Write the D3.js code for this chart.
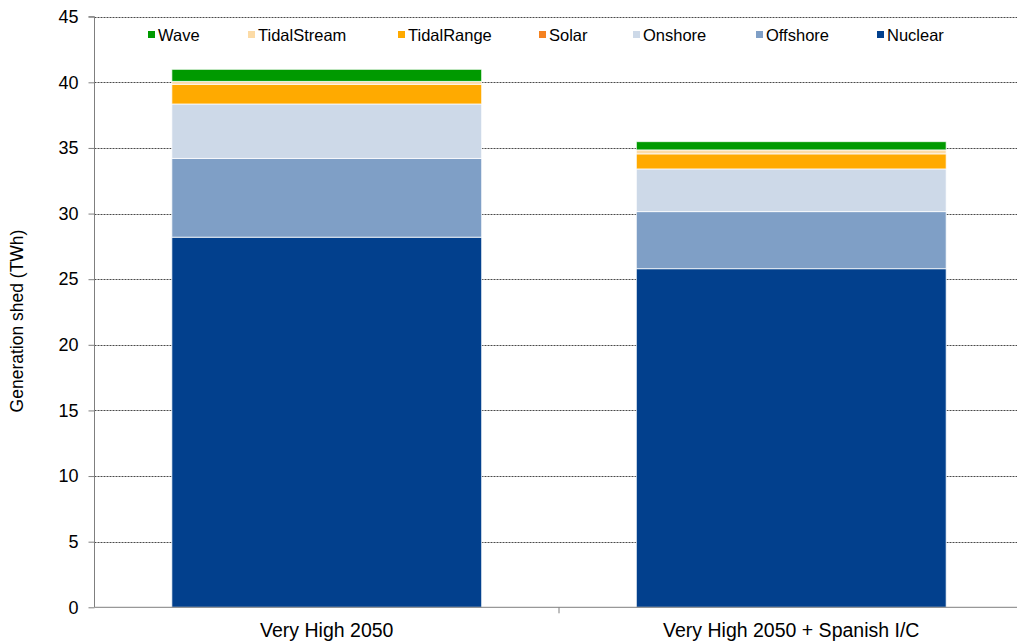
<!DOCTYPE html>
<html>
<head>
<meta charset="utf-8">
<script src="https://cdn.jsdelivr.net/npm/d3@7/dist/d3.min.js"></script>
<style>
  html, body { margin: 0; padding: 0; background: #fff; }
  svg { display: block; font-family: "Liberation Sans", Arial, sans-serif; }
</style>
</head>
<body>
<svg id="chart" width="1017" height="643"></svg>
<script>
// Scenarios on the x axis
const categories = ["Very High 2050", "Very High 2050 + Spanish I/C"];

// Generation shed per technology (TWh), one value per scenario
const nuclear     = [28.2, 25.8];
const offshore    = [6.0, 4.35];
const onshore     = [4.15, 3.25];
const solar       = [0, 0];
const tidalRange  = [1.5, 1.15];
const tidalStream = [0.22, 0.3];
const wave        = [0.92, 0.63];

// Stacking order, bottom to top
const seriesNames = ["Nuclear", "Offshore", "Onshore", "Solar", "TidalRange", "TidalStream", "Wave"];
const seriesValues = [nuclear, offshore, onshore, solar, tidalRange, tidalStream, wave];
const seriesColors = ["#02408D", "#7F9FC6", "#CDD9E8", "#F58220", "#FFAA00", "#FCDBA6", "#009A00"];

const yTicks = [0, 5, 10, 15, 20, 25, 30, 35, 40, 45];

const rows = categories.map((c, i) => {
  const r = { category: c };
  seriesNames.forEach((s, k) => { r[s] = seriesValues[k][i]; });
  return r;
});

const svg = d3.select("#chart");
const plotLeft = 94.5, plotRight = 1023.5, plotTop = 16.7, plotBottom = 607.3;

const x = d3.scaleBand().domain(categories).range([plotLeft, plotRight])
  .paddingInner(0.333).paddingOuter(0.1665);
const y = d3.scaleLinear().domain([0, 45]).range([plotBottom, plotTop]);
const color = d3.scaleOrdinal().domain(seriesNames).range(seriesColors);

// Dotted horizontal gridlines
svg.append("g")
  .selectAll("line")
  .data(yTicks.filter(t => t > 0))
  .join("line")
  .attr("x1", plotLeft).attr("x2", plotRight)
  .attr("y1", d => Math.round(y(d)) + 0.5).attr("y2", d => Math.round(y(d)) + 0.5)
  .attr("stroke", "#4a4a4a")
  .attr("stroke-width", 1)
  .attr("stroke-dasharray", "2,1");

// Stacked bars
const stacked = d3.stack().keys(seriesNames)(rows);
svg.append("g")
  .selectAll("g")
  .data(stacked)
  .join("g")
  .attr("fill", d => color(d.key))
  .selectAll("rect")
  .data(d => d.filter(p => p[1] - p[0] > 0))
  .join("rect")
  .attr("x", d => x(d.data.category))
  .attr("width", x.bandwidth())
  .attr("y", d => y(d[1]))
  .attr("height", d => y(d[0]) - y(d[1]))
  .attr("stroke", "#ffffff")
  .attr("stroke-opacity", 0.75)
  .attr("stroke-width", 1);

// Y axis
const yAxis = d3.axisLeft(y).tickValues(yTicks).tickSize(6).tickPadding(10);
const gy = svg.append("g").attr("transform", `translate(${plotLeft},0)`).call(yAxis);
gy.select(".domain").attr("stroke", "#7f7f7f").attr("d", `M-6,${plotTop}H0V${plotBottom}`);
gy.selectAll(".tick line").attr("stroke", "#7f7f7f");
gy.selectAll(".tick text").attr("font-size", 18).attr("fill", "#000")
  .attr("font-family", "Liberation Sans, Arial, sans-serif");

// X axis with tick marks on category boundaries
svg.append("line")
  .attr("x1", plotLeft).attr("x2", plotRight)
  .attr("y1", plotBottom).attr("y2", plotBottom)
  .attr("stroke", "#7f7f7f");
const boundaries = categories.map(c => x(c) - x.step() * x.paddingInner() / 2);
svg.append("g").selectAll("line")
  .data(boundaries.slice(1))
  .join("line")
  .attr("x1", d => d).attr("x2", d => d)
  .attr("y1", plotBottom).attr("y2", plotBottom + 6)
  .attr("stroke", "#7f7f7f");
svg.append("g").selectAll("text")
  .data(categories)
  .join("text")
  .attr("x", d => x(d) + x.bandwidth() / 2)
  .attr("y", 637)
  .attr("text-anchor", "middle")
  .attr("font-size", 19.5)
  .attr("fill", "#000")
  .text(d => d);

// Y axis title
svg.append("text")
  .attr("transform", "translate(23,321) rotate(-90)")
  .attr("text-anchor", "middle")
  .attr("font-size", 17.5)
  .attr("fill", "#000")
  .text("Generation shed (TWh)");

// Legend, top-most series first
const legendOrder = seriesNames.slice().reverse();
const legendX = [158, 258, 408, 549, 643, 766, 887];
const legend = svg.append("g").selectAll("g")
  .data(legendOrder)
  .join("g")
  .attr("transform", (d, i) => `translate(${legendX[i]},35)`);
legend.append("rect")
  .attr("x", -10).attr("y", -4).attr("width", 7).attr("height", 7)
  .attr("fill", d => color(d));
legend.append("text")
  .attr("x", 0).attr("y", 6)
  .attr("font-size", 16.5)
  .attr("fill", "#000")
  .text(d => d);
</script>
</body>
</html>
